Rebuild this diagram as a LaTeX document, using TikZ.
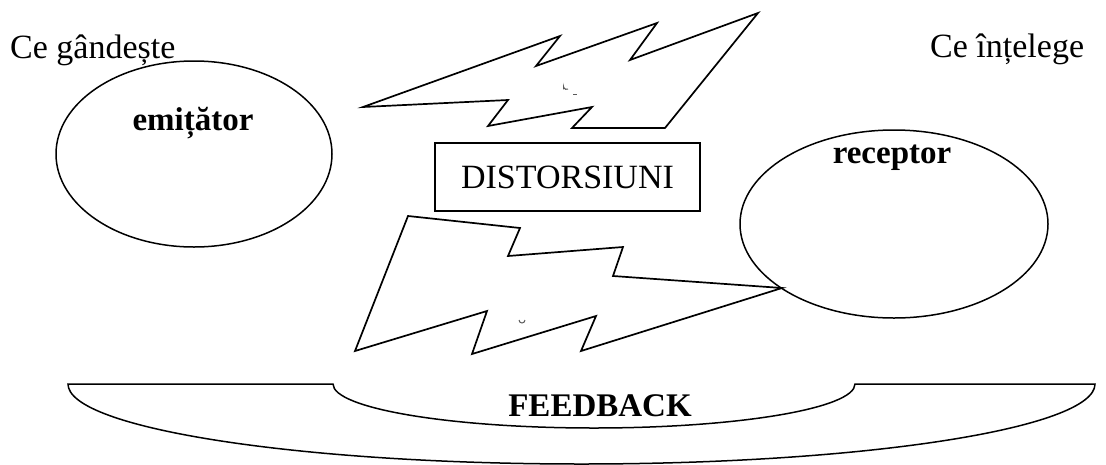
\documentclass[tikz,border=0pt]{standalone}
\usepackage{fontspec}
\setmainfont{Liberation Serif}
\usetikzlibrary{shapes.geometric}
\begin{document}
\begin{tikzpicture}[x=1pt,y=-1pt,
  shapeline/.style={draw=black,line width=1.7pt,line join=miter},
  txt/.style={font=\fontsize{34}{38}\selectfont,inner sep=0pt},
  btxt/.style={font=\fontsize{33}{38}\selectfont\bfseries,inner sep=0pt}]
\useasboundingbox (0,0) rectangle (1106,464);
\clip (0,0) rectangle (1106,464);
% ellipses
\node[ellipse,shapeline,line width=1.5pt,minimum width=276pt,minimum height=186pt,inner sep=0pt] (em) at (194,154) {};
\node[ellipse,shapeline,line width=1.5pt,minimum width=308pt,minimum height=188pt,inner sep=0pt] (rec) at (894,224) {};
\node[btxt,anchor=base] (emt) at (193,130) {emițător};
\node[btxt,anchor=base] (rect) at (892,163) {receptor};
\node[txt,anchor=base west] (g1) at (10,58) {Ce gândește};
\node[txt,anchor=base west] (g2) at (930,57) {Ce înțelege};
% distorsiuni box
\node[draw,line width=1.5pt,minimum width=265pt,minimum height=68pt,inner sep=0pt,font=\fontsize{34}{38}\selectfont] (dist) at (567.5,177) {DISTORSIUNI};
% top lightning
\draw[shapeline] (363,107) -- (560,36) -- (536,66) -- (657,23) -- (630,60) -- (758,13)
  -- (665,128) -- (572,128) -- (592,107) -- (488,126) -- (508,100) -- cycle;
% bottom lightning
\draw[shapeline] (408,216) -- (520,228) -- (508,256) -- (623,247) -- (613,276) -- (782,288)
  -- (581,351) -- (596,316) -- (472,354) -- (487,311) -- (355,351) -- cycle;
% small marks
\draw[line width=1pt,gray!70!black] (568,89) arc (60:180:3) -- ++(0,3);
\draw[line width=1pt,gray!70!black] (573,94) -- (577,94);
\draw[line width=1pt,gray!70!black] (519,320) arc (180:0:3);
% feedback shape
\draw[line width=1.5pt] (68,384) -- (333,384) arc[start angle=180,end angle=0,x radius=261,y radius=44]
  -- (1095,384) arc[start angle=0,end angle=180,x radius=513.5,y radius=80] -- cycle;
\node[btxt,anchor=base] (fb) at (600,416) {FEEDBACK};
\end{tikzpicture}
\end{document}
